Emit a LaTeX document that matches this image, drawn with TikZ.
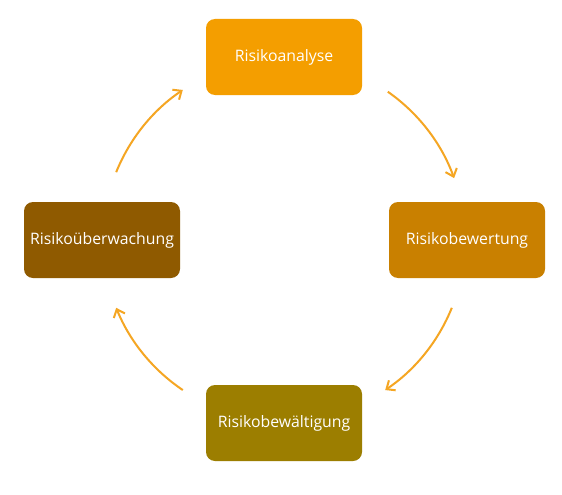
\documentclass[tikz,border=0pt]{standalone}
\usepackage{fontspec}
\setmainfont{Open Sans}
\usetikzlibrary{arrows.meta}
\definecolor{cA}{HTML}{F49E00}
\definecolor{cB}{HTML}{C98000}
\definecolor{cC}{HTML}{9C7E00}
\definecolor{cD}{HTML}{8F5A00}
\definecolor{arr}{HTML}{F5A623}
\tikzset{
  stage/.style={rounded corners=9pt, minimum width=156pt, minimum height=76pt,
    text=white, font=\fontsize{15.8}{18}\selectfont, inner sep=0pt},
  cyc/.style={draw=arr, line width=2pt, -{Straight Barb[length=7pt,width=12pt,line width=2pt]}}
}
\begin{document}
\begin{tikzpicture}[x=1pt,y=-1pt]
\useasboundingbox[fill=white] (0,0) rectangle (562,495);
\node[stage, fill=cA] (ana) at (284,57) {Risikoanalyse};
\node[stage, fill=cB] (bew) at (467,240) {Risikobewertung};
\node[stage, fill=cC] (bwa) at (284,423) {Risikobewältigung};
\node[stage, fill=cD] (ueb) at (102,240) {Risikoüberwachung};
\coordinate (m) at (284,240);
\coordinate (s1) at ([shift={(55:181pt)}]m);
\coordinate (s2) at ([shift={(-22:181pt)}]m);
\coordinate (s3) at ([shift={(-124:181pt)}]m);
\coordinate (s4) at ([shift={(158:181pt)}]m);
\draw[cyc] (s1) arc[start angle=-55, end angle=-20, radius=181];
\draw[cyc] (s2) arc[start angle=22, end angle=56, radius=181];
\draw[cyc] (s3) arc[start angle=124, end angle=158, radius=181];
\draw[cyc] (s4) arc[start angle=-158, end angle=-124, radius=181];
\end{tikzpicture}
\end{document}
